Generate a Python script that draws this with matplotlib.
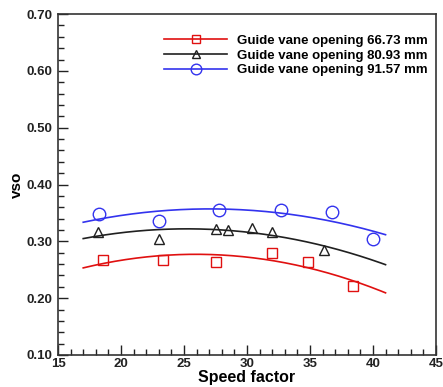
import numpy as np
import matplotlib.pyplot as plt
from matplotlib.ticker import MultipleLocator

plt.rcParams['font.family'] = ['Liberation Sans', 'DejaVu Sans']
plt.rcParams['font.weight'] = 'bold'

# measured points for each guide vane opening
sf_6673 = [18.55, 23.36, 27.51, 31.98, 34.87, 38.39]
vso_6673 = [0.267, 0.268, 0.264, 0.280, 0.263, 0.221]

sf_8093 = [18.2, 23.04, 27.54, 28.46, 30.4, 31.96, 36.11]
vso_8093 = [0.317, 0.304, 0.321, 0.320, 0.324, 0.317, 0.285]

sf_9157 = [18.25, 23.04, 27.78, 32.67, 36.77, 40.02]
vso_9157 = [0.349, 0.336, 0.356, 0.355, 0.351, 0.305]

labels = ['Guide vane opening 66.73 mm', 'Guide vane opening 80.93 mm',
          'Guide vane opening 91.57 mm']
colors = ['#e01010', '#202020', '#3333ee']
markers = ['s', '^', 'o']
msizes = [7, 7.5, 9]

fig = plt.figure(figsize=(4.43, 3.87), dpi=100)
ax = fig.add_axes([0.131, 0.0827, 0.853, 0.881])

xfit = np.linspace(17, 41, 200)
series = [(sf_6673, vso_6673), (sf_8093, vso_8093), (sf_9157, vso_9157)]
for (x, y), lab, c, m, ms in zip(series, labels, colors, markers, msizes):
    # quadratic trend line through the measured points
    coef = np.polyfit(x, y, 2)
    ax.plot(xfit, np.polyval(coef, xfit), color=c, lw=1.2)
    ax.plot(x, y, ls='none', marker=m, ms=ms, mfc='none', mec=c, mew=1.0)
    ax.plot([], [], color=c, lw=1.2, marker=m, ms=ms, mfc='none', mec=c, mew=1.0, label=lab)

ax.set_xlim(15, 45)
ax.set_ylim(0.10, 0.70)
ax.xaxis.set_major_locator(MultipleLocator(5))
ax.xaxis.set_minor_locator(MultipleLocator(1))
ax.yaxis.set_major_locator(MultipleLocator(0.1))
ax.yaxis.set_minor_locator(MultipleLocator(0.02))
ax.yaxis.set_major_formatter(plt.FormatStrFormatter('%.2f'))
ax.tick_params(which='both', direction='in', top=False, right=False, labelsize=9.5, colors='#222222')
ax.tick_params(which='major', length=7, width=1.0)
ax.tick_params(which='minor', length=4, width=1.0)
ax.tick_params(axis='x', which='major', pad=2)
ax.tick_params(axis='y', which='major', pad=4)
for sp in ax.spines.values():
    sp.set_linewidth(1.2)
    sp.set_color('#333333')

ax.set_xlabel('Speed factor', fontsize=11.5, fontweight='bold', labelpad=0)
ax.set_ylabel('vso', fontsize=11, fontweight='bold', labelpad=2)

ax.legend(loc='upper left', bbox_to_anchor=(0.28, 0.94), frameon=False, fontsize=9.5,
          handlelength=4.8, handletextpad=0.75, labelspacing=0.2, borderaxespad=0,
          borderpad=0, markerscale=0.85)

fig.savefig('out.png', dpi=100)
